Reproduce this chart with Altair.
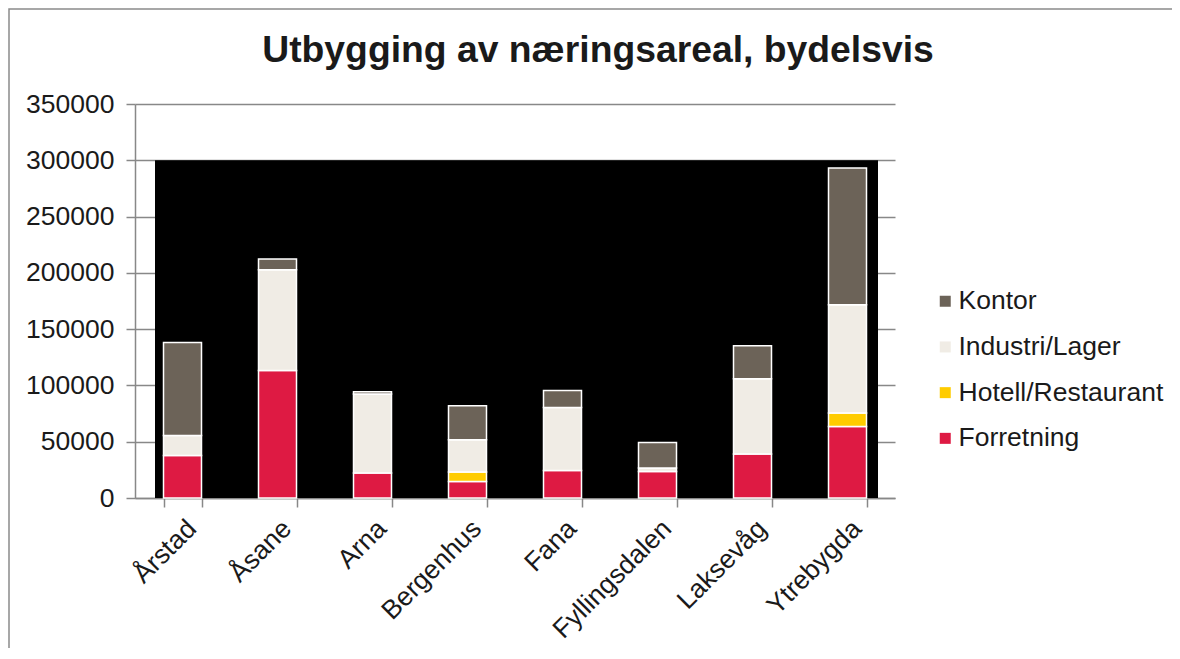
import altair as alt
import pandas as pd

bydeler = ["Årstad", "Åsane", "Arna", "Bergenhus", "Fana", "Fyllingsdalen", "Laksevåg", "Ytrebygda"]
forretning = [37800, 113300, 22200, 14700, 24500, 23600, 39100, 63600]
hotell = [0, 0, 0, 8400, 0, 0, 0, 11900]
industri = [17800, 89400, 70200, 28700, 56000, 3000, 66900, 96200]
kontor = [82600, 9500, 2000, 30200, 15100, 22800, 29300, 121400]

kategorier = ["Forretning", "Hotell/Restaurant", "Industri/Lager", "Kontor"]
farger = ["#DE1A43", "#FFCC00", "#F0ECE5", "#6C6358"]
tittel = "Utbygging av næringsareal, bydelsvis"

rows = []
for i, b in enumerate(bydeler):
    for k, (kat, serie) in enumerate(zip(kategorier, [forretning, hotell, industri, kontor])):
        if serie[i] > 0:
            rows.append({"bydel": b, "kategori": kat, "verdi": serie[i], "idx": k})
df = pd.DataFrame(rows)

W, H = 760, 394
FONT = "Liberation Sans"

xenc = alt.X("bydel:N", sort=bydeler, title=None,
             scale=alt.Scale(paddingInner=0.6, paddingOuter=0.3),
             axis=alt.Axis(labelAngle=-45, labelFontSize=26.5, labelFont=FONT, labelColor="#1a1a1a",
                           tickBand="extent", tickSize=9, domainColor="#888", tickColor="#888",
                           domainWidth=1.5, tickWidth=1.5, labelPadding=8, grid=False))
yscale = alt.Scale(domain=[0, 350000], nice=False)

bars = alt.Chart(df).mark_bar(stroke="white", strokeWidth=1.5).encode(
    x=xenc,
    y=alt.Y("verdi:Q", stack="zero", scale=yscale, title=None,
            axis=alt.Axis(values=list(range(0, 350001, 50000)), format="d", labelFontSize=26.5,
                          labelFont=FONT, labelColor="#1a1a1a", tickSize=9, labelPadding=12,
                          domainColor="#888", tickColor="#888", gridColor="#888", gridWidth=1.5,
                          domainWidth=1.5, tickWidth=1.5, grid=True)),
    color=alt.Color("kategori:N",
                    scale=alt.Scale(domain=kategorier[::-1], range=farger[::-1]),
                    legend=alt.Legend(title=None, orient="none", legendX=797, legendY=184,
                                      symbolType="square", symbolSize=121, symbolStrokeWidth=0,
                                      labelFontSize=26.5, labelFont=FONT, labelColor="#1a1a1a",
                                      labelLimit=400, rowPadding=18.7, labelOffset=0)),
    order=alt.Order("idx:Q", sort="ascending"),
)

bg = alt.Chart(pd.DataFrame({"a": [0]})).mark_rect(color="black").encode(
    x=alt.value(20), x2=alt.value(743),
    y=alt.datum(300000, scale=yscale), y2=alt.datum(0),
)

title_mark = alt.Chart(pd.DataFrame({"t": [tittel]})).mark_text(
    font=FONT, fontSize=37.3, fontWeight="bold", color="#1a1a1a", align="center", baseline="alphabetic"
).encode(text="t:N", x=alt.value(463), y=alt.value(-42))

frame = alt.Chart(pd.DataFrame({"a": [0]})).mark_rect(
    fillOpacity=0, stroke="#8a8a8a", strokeWidth=1.5
).encode(x=alt.value(-126), y=alt.value(-95), x2=alt.value(1100), y2=alt.value(700))

chart = alt.layer(frame, bg, bars, title_mark).properties(
    width=W, height=H,
    autosize=alt.AutoSizeParams(type="none"),
    padding={"left": 127, "top": 96, "right": 277, "bottom": 150},
).configure(background="white", view=alt.ViewConfig(strokeWidth=0))

chart.save("out.html", embed_options={"renderer": "svg", "actions": False})
